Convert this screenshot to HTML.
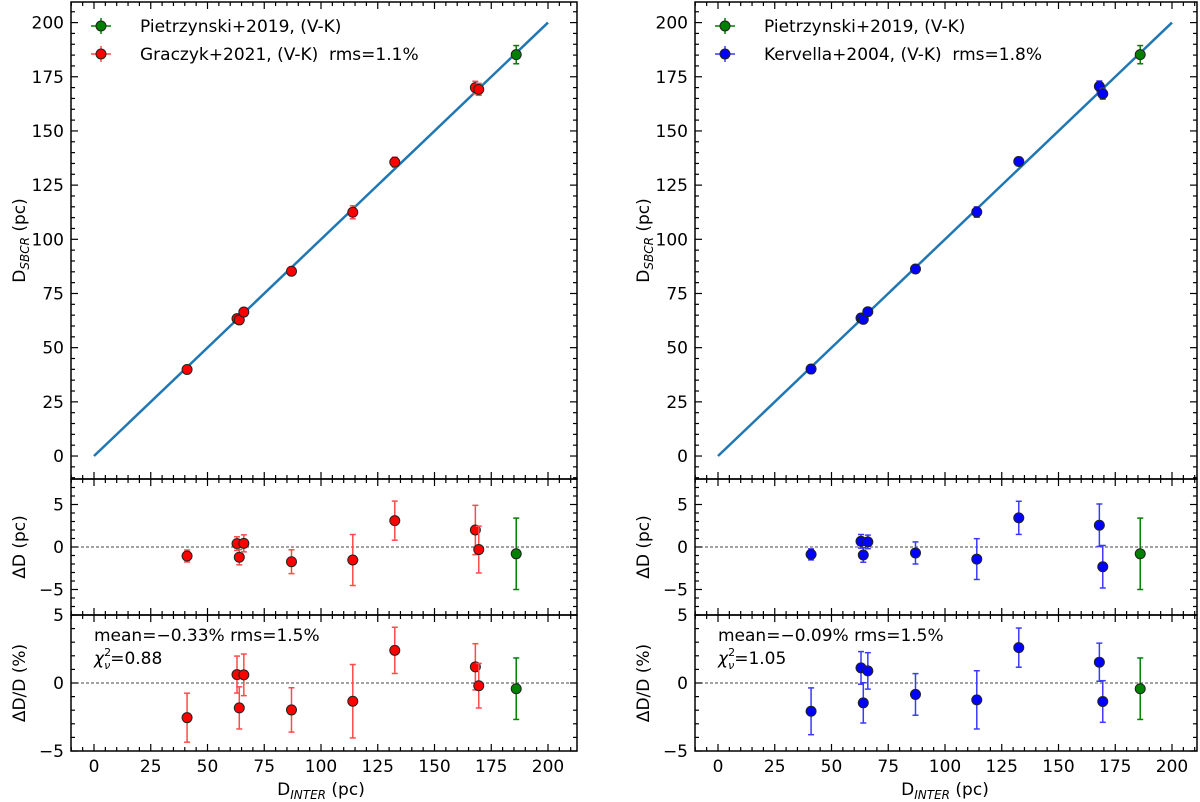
<!DOCTYPE html>
<html><head><meta charset="utf-8"><style>
html,body{margin:0;padding:0;background:#fff;}
svg{display:block;font-family:"DejaVu Sans","Liberation Sans",sans-serif;}
</style></head><body>
<svg id="fig" width="1200" height="802" viewBox="0 0 1200 802"></svg>
<script>
const dInter = [41, 63, 64, 66, 87, 114, 132.5, 168, 169.5];
const pietX = [186];
const graczykDD = [-1.06, 0.4, -1.2, 0.43, -1.73, -1.53, 3.1, 2.0, -0.3];
const graczykDDErr = [0.7, 0.8, 0.9, 1.0, 1.4, 3.0, 2.3, 2.9, 2.75];
const graczykPct = [-2.55, 0.62, -1.83, 0.6, -1.98, -1.34, 2.4, 1.19, -0.2];
const graczykPctErr = [1.8, 1.36, 1.55, 1.53, 1.63, 2.7, 1.7, 1.7, 1.64];
const kervellaDD = [-0.87, 0.67, -0.94, 0.6, -0.7, -1.42, 3.43, 2.56, -2.32];
const kervellaDDErr = [0.65, 0.8, 0.85, 0.8, 1.3, 2.4, 1.95, 2.5, 2.5];
const kervellaPct = [-2.08, 1.11, -1.46, 0.89, -0.84, -1.24, 2.6, 1.53, -1.36];
const kervellaPctErr = [1.72, 1.2, 1.48, 1.34, 1.53, 2.14, 1.44, 1.4, 1.53];
const pietDD = [-0.8];
const pietDDErr = [4.2];
const pietPct = [-0.42];
const pietPctErr = [2.26];
const xTicks = [0, 25, 50, 75, 100, 125, 150, 175, 200];
const yTopTicks = [0, 25, 50, 75, 100, 125, 150, 175, 200];
const yResTicks = [-5, 0, 5];

const NS = "http://www.w3.org/2000/svg";
const svg = document.getElementById('fig');
function el(tag, attrs, parent, text) {
  const e = document.createElementNS(NS, tag);
  for (const k in attrs) e.setAttribute(k, attrs[k]);
  if (text !== undefined) e.textContent = text;
  (parent || svg).appendChild(e);
  return e;
}

function panel(cfg) {
  const g = el('g', {});
  
  
  const xs = v => cfg.x0 + (v - cfg.xmin) / (cfg.xmax - cfg.xmin) * (cfg.x1 - cfg.x0);
  const ys = v => cfg.y1 - (v - cfg.ymin) / (cfg.ymax - cfg.ymin) * (cfg.y1 - cfg.y0);
  return {g, xs, ys, cfg};
}

function drawAxes(p, yTicks, yMinorStep, showXLabels, yLabelText, yLabelSub, yTickName) {
  const {g, xs, ys, cfg} = p;
  for (let v = -10; v <= cfg.xmax; v += 5) {
    const x = xs(v); if (x < cfg.x0 || x > cfg.x1) continue;
    const major = xTicks.includes(v);
    const L = major ? 7 : 4;
    el('line', {x1: x, x2: x, y1: cfg.y1, y2: cfg.y1 - L, stroke: '#000', 'stroke-width': 1.2}, g);
    el('line', {x1: x, x2: x, y1: cfg.y0, y2: cfg.y0 + L, stroke: '#000', 'stroke-width': 1.2}, g);
  }
  const start = Math.ceil(cfg.ymin / yMinorStep) * yMinorStep;
  for (let v = start; v <= cfg.ymax + 1e-9; v += yMinorStep) {
    const y = ys(v);
    const major = yTicks.some(t => Math.abs(t - v) < 1e-6);
    const L = major ? 7 : 4;
    el('line', {x1: cfg.x0, x2: cfg.x0 + L, y1: y, y2: y, stroke: '#000', 'stroke-width': 1.2}, g);
    el('line', {x1: cfg.x1, x2: cfg.x1 - L, y1: y, y2: y, stroke: '#000', 'stroke-width': 1.2}, g);
  }
  yTicks.forEach(t => {
    const tx = el('text', {x: cfg.x0 - 7, y: ys(t) + 6, 'text-anchor': 'end', 'font-size': 17, fill: '#000'}, g, t < 0 ? '\u2212' + Math.abs(t) : String(t));
    
    
  });
  if (showXLabels) {
    xTicks.forEach(t => {
      const tx = el('text', {x: xs(t), y: cfg.y1 + 21, 'text-anchor': 'middle', 'font-size': 17, fill: '#000'}, g, String(t));
      
      
    });
    const xl = el('text', {x: (xs(0) + xs(200)) / 2, y: cfg.y1 + 44, 'text-anchor': 'middle', 'font-size': 17}, g);
    
    
    el('tspan', {}, xl, 'D');
    el('tspan', {'font-size': 12, 'font-style': 'italic', dy: 4}, xl, 'INTER');
    el('tspan', {dy: -4}, xl, ' (pc)');
  }
  const cy = (cfg.y0 + cfg.y1) / 2;
  const lx = cfg.x0 - 46;
  const yl = el('text', {x: lx, y: cy, transform: `rotate(-90 ${lx} ${cy})`, 'text-anchor': 'middle', 'font-size': 17}, g);
  
  
  if (yLabelSub) {
    el('tspan', {}, yl, yLabelText);
    el('tspan', {'font-size': 12, 'font-style': 'italic', dy: 4}, yl, yLabelSub);
    el('tspan', {dy: -4}, yl, ' (pc)');
  } else {
    yl.textContent = yLabelText;
  }
  const fr = el('rect', {x: cfg.x0, y: cfg.y0, width: cfg.x1 - cfg.x0, height: cfg.y1 - cfg.y0, fill: 'none', stroke: '#000', 'stroke-width': 1.5}, g);
  
  
}

function points(p, xArr, yArr, errArr, fill, ecolor, name) {
  const {g, xs, ys} = p;
  xArr.forEach((xv, i) => {
    const x = xs(xv), y = ys(yArr[i]);
    const yt = ys(yArr[i] + errArr[i]), yb = ys(yArr[i] - errArr[i]);
    const eg = el('g', {}, g);
    
    
    el('line', {x1: x, x2: x, y1: yt, y2: yb, stroke: ecolor, 'stroke-width': 1.5}, eg);
    el('line', {x1: x - 3, x2: x + 3, y1: yt, y2: yt, stroke: ecolor, 'stroke-width': 1.5}, eg);
    el('line', {x1: x - 3, x2: x + 3, y1: yb, y2: yb, stroke: ecolor, 'stroke-width': 1.5}, eg);
    const c = el('circle', {cx: x, cy: y, r: 5, fill: fill, stroke: '#222', 'stroke-width': 1}, g);
    
    
  });
}

function zeroLine(p) {
  const {g, ys, cfg} = p;
  const l = el('line', {x1: cfg.x0, x2: cfg.x1, y1: ys(0), y2: ys(0), stroke: '#444', 'stroke-width': 1, 'stroke-dasharray': '3,2'}, g);
  
  
}

function build(side) {
  const off = side === 'left' ? 0 : 624;
  const x0 = side === 'left' ? 71 : 695;
  const x1 = side === 'left' ? 577 : 1197;
  const xmin = (x0 - 94 - off) / 2.27, xmax = (x1 - 94 - off) / 2.27;
  const DD = side === 'left' ? graczykDD : kervellaDD;
  const DDe = side === 'left' ? graczykDDErr : kervellaDDErr;
  const PC = side === 'left' ? graczykPct : kervellaPct;
  const PCe = side === 'left' ? graczykPctErr : kervellaPctErr;
  const col = side === 'left' ? 'red' : 'blue';
  const ecol = side === 'left' ? '#ff4a4a' : '#3a3aff';
  const sname = side === 'left' ? 'graczyk' : 'kervella';

  const top = panel({name: side + '-main-panel', x0, x1, y0: 2, y1: 479, xmin, xmax, ymin: -10.6, ymax: 209.5});
  const fl = el('line', {x1: top.xs(0), y1: top.ys(0), x2: top.xs(200), y2: top.ys(200), stroke: '#1f77b4', 'stroke-width': 2.5}, top.g);
  
  
  const sbcr = dInter.map((x, i) => x + DD[i]);
  points(top, dInter, sbcr, DDe, col, ecol, sname);
  points(top, pietX, pietX.map((x, i) => x + pietDD[i]), pietDDErr, 'green', 'green', 'pietrzynski');
  drawAxes(top, yTopTicks, 5, false, 'D', 'SBCR', 'y-tick-label');
  const lg = el('g', {}, top.g);
  
  
  const lx = x0 + 30;
  const entries = [['green', 'green', 'Pietrzynski+2019, (V-K)'], [col, ecol, side === 'left' ? 'Graczyk+2021, (V-K)\u00a0\u00a0rms=1.1%' : 'Kervella+2004, (V-K)\u00a0\u00a0rms=1.8%']];
  entries.forEach((e, i) => {
    const y = 26 + i * 28;
    const eg = el('g', {}, lg);
    
    
    el('line', {x1: lx - 10, x2: lx + 10, y1: y, y2: y, stroke: e[1], 'stroke-width': 1.5}, eg);
    el('line', {x1: lx, x2: lx, y1: y - 8, y2: y + 8, stroke: e[1], 'stroke-width': 1.5}, eg);
    el('circle', {cx: lx, cy: y, r: 5, fill: e[0], stroke: '#222', 'stroke-width': 1}, eg);
    el('text', {x: lx + 39, y: y + 6, 'font-size': 17}, eg, e[2]);
  });

  const mid = panel({name: side + '-residual-panel', x0, x1, y0: 479, y1: 615, xmin, xmax, ymin: -8, ymax: 8});
  zeroLine(mid);
  points(mid, dInter, DD, DDe, col, ecol, sname);
  points(mid, pietX, pietDD, pietDDErr, 'green', 'green', 'pietrzynski');
  drawAxes(mid, yResTicks, 1, false, '\u0394D (pc)', null, 'y-tick-label');

  const bot = panel({name: side + '-percent-panel', x0, x1, y0: 615, y1: 751, xmin, xmax, ymin: -5, ymax: 5});
  zeroLine(bot);
  points(bot, dInter, PC, PCe, col, ecol, sname);
  points(bot, pietX, pietPct, pietPctErr, 'green', 'green', 'pietrzynski');
  drawAxes(bot, yResTicks, 1, true, '\u0394D/D (%)', null, 'y-tick-label');
  const st = el('text', {x: x0 + 23, y: 641, 'font-size': 17}, bot.g, side === 'left' ? 'mean=\u22120.33% rms=1.5%' : 'mean=\u22120.09% rms=1.5%');
  
  
  const ch = el('text', {x: x0 + 23, y: 664, 'font-size': 17}, bot.g);
  
  
  el('tspan', {'font-style': 'italic'}, ch, '\u03c7');
  el('tspan', {'font-size': 11, dy: -8}, ch, '2');
  el('tspan', {'font-size': 11, 'font-style': 'italic', dx: -7, dy: 13}, ch, '\u03bd');
  el('tspan', {dy: -5}, ch, side === 'left' ? '=0.88' : '=1.05');
}
build('left');
build('right');
</script>
</body></html>
